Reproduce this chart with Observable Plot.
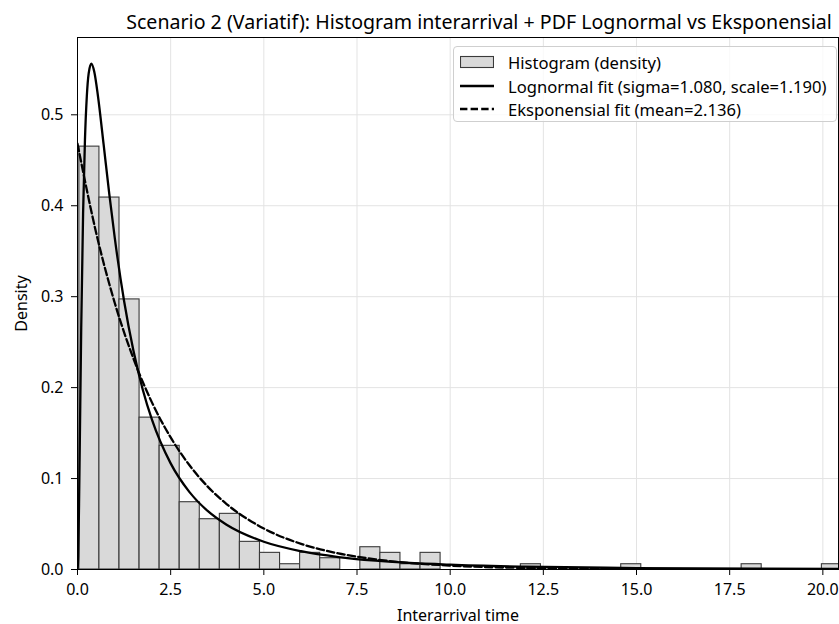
<!DOCTYPE html>
<html><head><meta charset="utf-8">
<script src="https://cdn.jsdelivr.net/npm/d3@7"></script>
<script src="https://cdn.jsdelivr.net/npm/@observablehq/plot@0.6"></script>
<style>
body{margin:0;background:#fff;font-family:"Noto Sans",sans-serif;}
#wrap{position:relative;width:839px;height:624px;overflow:hidden;}
#title{position:absolute;left:100px;width:758px;top:0;height:36px;text-align:center;font-size:19.6px;line-height:44px;color:#000;white-space:nowrap;}
#chart{position:absolute;left:0;top:36px;}
#legend{position:absolute;left:453px;top:46px;width:384px;height:76px;border:1px solid #cfcfcf;border-radius:4px;background:rgba(255,255,255,0.8);box-sizing:border-box;font-size:16.6px;color:#000;}
.row{position:absolute;left:6px;height:20px;display:flex;align-items:center;white-space:nowrap;}
.row svg{margin-right:14px;}
</style></head>
<body><div id="wrap"><div id="title"></div><div id="chart"></div><div id="legend"></div></div>
<script>
// Histogram bins (density), 38 bins
const binStart = 0.05;
const binWidth = 0.5385;
const binDensity = [0.465, 0.409, 0.297, 0.167, 0.136, 0.074, 0.0553, 0.0612, 0.0304, 0.0183,
  0.0058, 0.0183, 0.0124, 0, 0.0245, 0.0183, 0.0058, 0.0183, 0, 0,
  0, 0, 0.0058, 0, 0, 0, 0, 0.0058, 0, 0,
  0, 0, 0, 0.0058, 0, 0, 0, 0.0058];

// Lognormal fit curve (sigma=1.080, scale=1.190)
const lognX = [0, 0.02, 0.05, 0.1, 0.15, 0.2, 0.25, 0.3, 0.37, 0.45, 0.55, 0.7, 0.85, 1.0, 1.25, 1.5, 1.75, 2.0, 2.5, 3.0, 3.5, 4.0, 5.0, 6.0, 7.0, 8.0, 10, 12, 15, 20.4];
const lognY = [0, 0.0144, 0.0996, 0.2665, 0.3915, 0.4724, 0.5204, 0.5456, 0.5562, 0.5473, 0.5203, 0.4677, 0.4140, 0.3646, 0.2952, 0.2407, 0.1980, 0.1645, 0.1167, 0.0854, 0.0641, 0.0492, 0.0305, 0.0201, 0.0137, 0.0097, 0.0053, 0.0031, 0.0016, 0.0006];

// Exponential fit curve (mean=2.136)
const expX = [0, 0.5, 1, 1.5, 2, 2.5, 3, 3.5, 4, 5, 6, 7, 8, 10, 12, 15, 20.4];
const expY = [0.4682, 0.3704, 0.2931, 0.2320, 0.1835, 0.1452, 0.1149, 0.0909, 0.0720, 0.0451, 0.0282, 0.0177, 0.0111, 0.0043, 0.0017, 0.0004, 0.0000];

const xTicks = [0, 2.5, 5, 7.5, 10, 12.5, 15, 17.5, 20];
const yTicks = [0, 0.1, 0.2, 0.3, 0.4, 0.5];

const titleText = "Scenario 2 (Variatif): Histogram interarrival + PDF Lognormal vs Eksponensial";
const xLabel = "Interarrival time";
const yLabel = "Density";
const legendLabels = ["Histogram (density)", "Lognormal fit (sigma=1.080, scale=1.190)", "Eksponensial fit (mean=2.136)"];

const bins = binDensity.map((d, i) => ({x1: binStart + i * binWidth, x2: binStart + (i + 1) * binWidth, d})).filter(b => b.d > 0);
const logn = lognX.map((x, i) => ({x, y: lognY[i]}));
const expo = expX.map((x, i) => ({x, y: expY[i]}));
const fmt = d3.format(".1f");

const plot = Plot.plot({
  width: 839, height: 588,
  marginLeft: 77, marginRight: 1, marginTop: 1, marginBottom: 55,
  x: {domain: [0, 20.42]},
  y: {domain: [0, 0.585]},
  style: {fontFamily: "'Noto Sans', sans-serif", fontSize: "16px", color: "#000", background: "#fff", overflow: "visible"},
  marks: [
    Plot.gridX(xTicks, {stroke: "#e3e3e3", strokeOpacity: 1, strokeWidth: 1}),
    Plot.gridY(yTicks, {stroke: "#e3e3e3", strokeOpacity: 1, strokeWidth: 1}),
    Plot.rect(bins, {x1: "x1", x2: "x2", y1: 0, y2: "d", fill: "#d9d9d9", stroke: "#3a3a3a", strokeWidth: 1.1, clip: true}),
    Plot.line(expo, {x: "x", y: "y", stroke: "#000", strokeWidth: 2.3, strokeDasharray: "7.4,3.2", curve: "monotone-x", clip: true}),
    Plot.line(logn, {x: "x", y: "y", stroke: "#000", strokeWidth: 2.3, curve: "monotone-x", clip: true}),
    Plot.frame({stroke: "#000", strokeWidth: 1}),
    Plot.axisX(xTicks, {tickFormat: fmt, tickSize: 6, tickPadding: 8, label: xLabel, labelAnchor: "center", labelArrow: "none", labelOffset: 51}),
    Plot.axisY(yTicks, {tickFormat: fmt, tickSize: 6, tickPadding: 8, label: yLabel, labelAnchor: "center", labelArrow: "none", labelOffset: 62})
  ]
});
document.getElementById("chart").appendChild(plot);
document.getElementById("title").textContent = titleText;

// Legend
const legend = document.getElementById("legend");
const rowTops = [5, 29, 52];
const swatches = [
  '<svg width="34" height="14"><rect x="0.5" y="1.5" width="33" height="11" fill="#d9d9d9" stroke="#3a3a3a" stroke-width="1.1"/></svg>',
  '<svg width="34" height="14"><line x1="0" x2="34" y1="7" y2="7" stroke="#000" stroke-width="2.3"/></svg>',
  '<svg width="34" height="14"><line x1="0" x2="34" y1="7" y2="7" stroke="#000" stroke-width="2.3" stroke-dasharray="7.4,3.2"/></svg>'
];
legendLabels.forEach((t, i) => {
  const r = document.createElement("div");
  r.className = "row";
  r.style.top = rowTops[i] + "px";
  r.innerHTML = swatches[i] + "<span></span>";
  r.querySelector("span").textContent = t;
  legend.appendChild(r);
});
</script>
</body></html>
